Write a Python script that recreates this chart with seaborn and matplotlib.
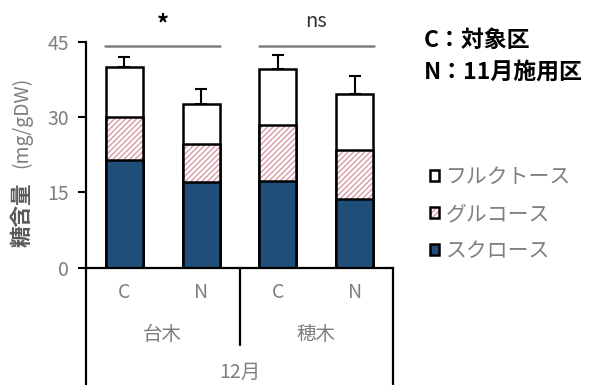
import matplotlib
matplotlib.use("Agg")
import matplotlib.pyplot as plt
import matplotlib.transforms as mtransforms
from matplotlib.colors import to_rgba
from matplotlib.patches import Patch
import numpy as np
import pandas as pd
import seaborn as sns

# ---- data ----
groups = ["台木", "台木", "穂木", "穂木"]
treatments = ["C", "N", "C", "N"]
sucrose = [21.5, 17.1, 17.3, 13.7]
glucose = [8.6, 7.5, 11.1, 9.8]
fructose = [10.0, 8.0, 11.3, 11.1]
total_err = [1.9, 3.0, 2.8, 3.7]
month_label = "12月"
sig_labels = ["*", "ns"]
yticks = [0, 15, 30, 45]
series_names = ["フルクトース", "グルコース", "スクロース"]
note_lines = ["C：対象区", "N：11月施用区"]

NAVY = "#1F4E79"
PINK = "#D99AA6"
GRAY = "#7F7F7F"

sns.set_theme(style="white")
plt.rcParams["font.family"] = ["Noto Sans CJK JP", "DejaVu Sans"]
plt.rcParams["hatch.linewidth"] = 1.0

keys = [f"{g}-{t}" for g, t in zip(groups, treatments)]
df = pd.DataFrame({
    "key": keys,
    "sucrose": sucrose,
    "glucose": glucose,
    "fructose": fructose,
})
df["cum_glu"] = df["sucrose"] + df["glucose"]
df["total"] = df["cum_glu"] + df["fructose"]

fig = plt.figure(figsize=(5.96, 3.85), dpi=100)
W, H = 596, 385
x0, x1, y0, y1 = 86, 393, 267.5, 42
ax = fig.add_axes([x0 / W, (H - y0) / H, (x1 - x0) / W, (y0 - y1) / H])

bar_kw = dict(x="key", order=keys, width=0.48, saturation=1, errorbar=None,
              edgecolor="black", linewidth=1.8, ax=ax)

# stacked bars, drawn back to front as cumulative heights
sns.barplot(data=df, y="total", color="white", **bar_kw)
n_before = len(ax.patches)
sns.barplot(data=df, y="cum_glu", color="white", hatch="//////", **bar_kw)
for p in ax.patches[n_before:]:
    p._hatch_color = to_rgba(PINK)
sns.barplot(data=df, y="sucrose", color=NAVY, **bar_kw)

# upward error bars on the totals
xpos = np.arange(len(keys))
ax.errorbar(xpos, df["total"], yerr=[np.zeros(len(keys)), total_err],
            fmt="none", ecolor="black", elinewidth=1.5, capsize=4.5,
            capthick=1.5, zorder=5)

ax.set_xlim(-0.5, 3.5)
ax.set_ylim(0, 45)
ax.set_yticks(yticks)
ax.set_yticklabels([str(v) for v in yticks], color=GRAY, fontsize=14)
ax.tick_params(axis="y", direction="out", length=6, width=1.5, color="black", pad=6, left=True)
ax.tick_params(axis="x", length=0, labelbottom=False)
ax.set_xlabel("")
ax.set_ylabel("")
for s in ["top", "right"]:
    ax.spines[s].set_visible(False)
for s in ["left", "bottom"]:
    ax.spines[s].set_color("black")
    ax.spines[s].set_linewidth(1.6)

# category table below the axis
trans = mtransforms.blended_transform_factory(ax.transData, ax.transAxes)
px = 1.0 / (y0 - y1)  # one pixel in axes-y units
ax.plot([-0.5, -0.5], [0, -(H - y0 + 2) * px], color="black", lw=1.6,
        transform=trans, clip_on=False)
ax.plot([3.5, 3.5], [0, -(H - y0 + 2) * px], color="black", lw=1.6,
        transform=trans, clip_on=False)
ax.plot([1.5, 1.5], [0, -(345 - y0) * px], color="black", lw=1.6,
        transform=trans, clip_on=False)
for i, t in enumerate(treatments):
    ax.text(i, -(292 - y0) * px, t, transform=trans, ha="center", va="center",
            color=GRAY, fontsize=14)
for gi, g in enumerate(dict.fromkeys(groups)):
    ax.text(gi * 2 + 0.5, -(335 - y0) * px, g, transform=trans, ha="center",
            va="center", color=GRAY, fontsize=14)
ax.text(1.5, -(372 - y0) * px, month_label, transform=trans, ha="center",
        va="center", color=GRAY, fontsize=14)

# significance brackets
sig_y = 44.3
for gi, lab in enumerate(sig_labels):
    xa, xb = gi * 2 - 0.25, gi * 2 + 1.25
    ax.plot([xa, xb], [sig_y, sig_y], color=GRAY, lw=1.8, clip_on=False)
    if lab == "*":
        ax.text((xa + xb) / 2, sig_y + 4.2, lab, ha="center", va="center",
                fontsize=17, fontweight="bold", color="black")
    else:
        ax.text((xa + xb) / 2, sig_y + 4.8, lab, ha="center", va="center",
                fontsize=14.5, color="#333333")

# y-axis label
fig.text(22 / W, 1 - 215 / H, "糖含量", rotation=90, ha="center", va="center",
         fontsize=15.5, fontweight="bold", color="#595959")
fig.text(22 / W, 1 - 122 / H, "(mg/gDW)", rotation=90, ha="center", va="center",
         fontsize=14, color=GRAY)

# treatment notes
fig.text(424 / W, 1 - 40 / H, note_lines[0], ha="left", va="center",
         fontsize=16.5, fontweight="bold", color="black")
fig.text(424 / W, 1 - 72 / H, note_lines[1], ha="left", va="center",
         fontsize=16.5, fontweight="bold", color="black")

# legend
handles = [
    Patch(facecolor="white", edgecolor="black", linewidth=1.8),
    Patch(facecolor="white", edgecolor="black", linewidth=1.8, hatch="//////"),
    Patch(facecolor=NAVY, edgecolor="black", linewidth=1.8),
]
leg = fig.legend(handles, series_names, loc="upper left",
                 bbox_to_anchor=(430 / W, 1 - 166 / H), frameon=False,
                 fontsize=15, labelcolor=GRAY, handlelength=0.45,
                 handleheight=0.45, handletextpad=0.3, labelspacing=0.72,
                 borderaxespad=0, borderpad=0)
for p in leg.get_patches():
    if p.get_hatch():
        p._hatch_color = to_rgba(PINK)

fig.savefig("out.png", dpi=100)
